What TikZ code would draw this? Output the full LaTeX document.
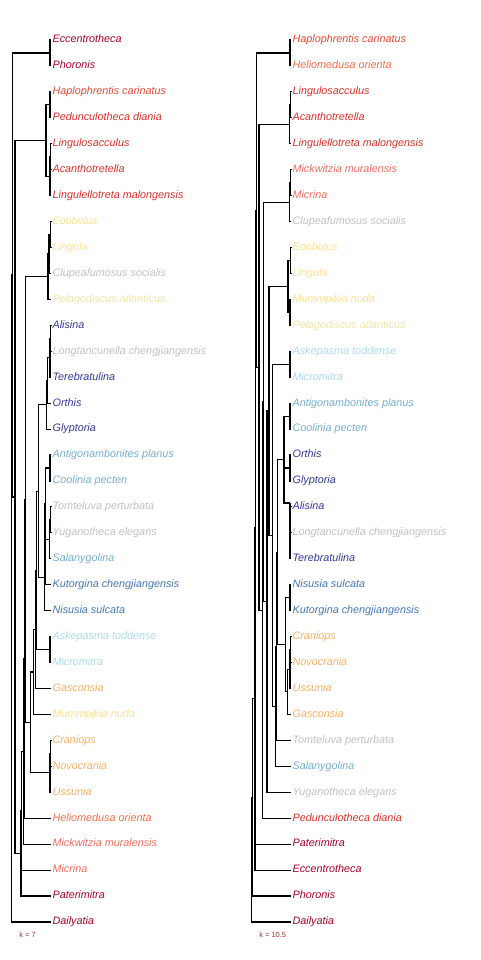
\documentclass[tikz,border=0pt]{standalone}
\usepackage{fontspec}
\setmainfont{Liberation Sans}
\usepackage{xcolor}
\usepackage{tikz}
\definecolor{cdkred}{HTML}{A50026}
\definecolor{cred}{HTML}{D73027}
\definecolor{credor}{HTML}{E34A33}
\definecolor{corred}{HTML}{F46D43}
\definecolor{csalmon}{HTML}{F26B5B}
\definecolor{corange}{HTML}{FDAE61}
\definecolor{cyellow}{HTML}{FEE090}
\definecolor{cpale}{HTML}{EDE5A6}
\definecolor{cltblue}{HTML}{ABD9E9}
\definecolor{cmdblue}{HTML}{74ADD1}
\definecolor{cblue}{HTML}{4575B4}
\definecolor{cindigo}{HTML}{313695}
\definecolor{cgrey}{HTML}{C0C0C0}
\definecolor{klab}{HTML}{993333}
\tikzset{
  taxon/.style={anchor=west,inner xsep=1pt,inner ysep=0pt,text height=5.8pt,text depth=1.5pt,font=\fontsize{8.1}{9}\selectfont\itshape},
  branch/.style={line width=0.8pt,black},
  klabel/.style={anchor=west,inner sep=0pt,text=klab,font=\fontsize{5.6}{6}\selectfont}
}

\begin{document}
\begin{tikzpicture}[x=0.75pt,y=-0.75pt]
		\useasboundingbox (0,0) rectangle (480,960);
		% left tree, k = 7
		\node[taxon,text=cdkred] (lEcc) at (51,40.0) {Eccentrotheca};
		\node[taxon,text=cdkred] (lPho) at (51,65.9) {Phoronis};
		\node[taxon,text=credor] (lHap) at (51,91.9) {Haplophrentis carinatus};
		\node[taxon,text=cred] (lPed) at (51,117.8) {Pedunculotheca diania};
		\node[taxon,text=cred] (lLgs) at (51,143.8) {Lingulosacculus};
		\node[taxon,text=cred] (lAca) at (51,169.7) {Acanthotretella};
		\node[taxon,text=cred] (lLgt) at (51,195.6) {Lingulellotreta malongensis};
		\node[taxon,text=cyellow] (lEoo) at (51,221.6) {Eoobolus};
		\node[taxon,text=cyellow] (lLin) at (51,247.5) {Lingula};
		\node[taxon,text=cgrey] (lClu) at (51,273.5) {Clupeafumosus socialis};
		\node[taxon,text=cpale] (lPel) at (51,299.4) {Pelagodiscus atlanticus};
		\node[taxon,text=cindigo] (lAli) at (51,325.3) {Alisina};
		\node[taxon,text=cgrey] (lLon) at (51,351.3) {Longtancunella chengjiangensis};
		\node[taxon,text=cindigo] (lTer) at (51,377.2) {Terebratulina};
		\node[taxon,text=cindigo] (lOrt) at (51,403.2) {Orthis};
		\node[taxon,text=cindigo] (lGly) at (51,429.1) {Glyptoria};
		\node[taxon,text=cmdblue] (lAnt) at (51,455.0) {Antigonambonites planus};
		\node[taxon,text=cmdblue] (lCoo) at (51,481.0) {Coolinia pecten};
		\node[taxon,text=cgrey] (lTom) at (51,506.9) {Tomteluva perturbata};
		\node[taxon,text=cgrey] (lYug) at (51,532.9) {Yuganotheca elegans};
		\node[taxon,text=cmdblue] (lSal) at (51,558.8) {Salanygolina};
		\node[taxon,text=cblue] (lKut) at (51,584.7) {Kutorgina chengjiangensis};
		\node[taxon,text=cblue] (lNis) at (51,610.7) {Nisusia sulcata};
		\node[taxon,text=cltblue] (lAsk) at (51,636.6) {Askepasma toddense};
		\node[taxon,text=cltblue] (lMic) at (51,662.6) {Micromitra};
		\node[taxon,text=corange] (lGas) at (51,688.5) {Gasconsia};
		\node[taxon,text=cyellow] (lMum) at (51,714.4) {Mummpikia nuda};
		\node[taxon,text=corange] (lCra) at (51,740.4) {Craniops};
		\node[taxon,text=corange] (lNov) at (51,766.3) {Novocrania};
		\node[taxon,text=corange] (lUss) at (51,792.3) {Ussunia};
		\node[taxon,text=corred] (lHel) at (51,818.2) {Heliomedusa orienta};
		\node[taxon,text=csalmon] (lMkw) at (51,844.1) {Mickwitzia muralensis};
		\node[taxon,text=csalmon] (lMcr) at (51,870.1) {Micrina};
		\node[taxon,text=cdkred] (lPat) at (51,896.0) {Paterimitra};
		\node[taxon,text=cdkred] (lDai) at (51,922.0) {Dailyatia};
		\node[klabel] (lk) at (19,935) {k = 7};
		% left tree, inner nodes
		\coordinate (lEP) at (50,53.0);
		\coordinate (lHP) at (50,104.9);
		\coordinate (lL1) at (50.7,156.8);
		\coordinate (lL2) at (50,176.2);
		\coordinate (lH) at (46,140.5);
		\coordinate (lE1) at (50.7,234.6);
		\coordinate (lE2) at (49,254.0);
		\coordinate (lE3) at (48,276.7);
		\coordinate (lA1) at (50.7,338.3);
		\coordinate (lA2) at (50,357.8);
		\coordinate (lA3) at (47.7,380.5);
		\coordinate (lA4) at (46.7,404.8);
		\coordinate (lAC) at (50,468.0);
		\coordinate (lTY) at (50.7,519.9);
		\coordinate (lTYS) at (49.5,539.4);
		\coordinate (lR) at (45.7,503.7);
		\coordinate (lQa) at (45,544.2);
		\coordinate (lQ) at (44.3,577.5);
		\coordinate (lP) at (38.3,491.2);
		\coordinate (lAM) at (50,649.6);
		\coordinate (lS1) at (36.7,570.4);
		\coordinate (lS2) at (35.7,629.5);
		\coordinate (lS3) at (33.3,672.0);
		\coordinate (lC1) at (50.7,753.4);
		\coordinate (lC2) at (50,772.9);
		\coordinate (lS4) at (30.7,722.5);
		\coordinate (lT) at (25.7,499.6);
		\coordinate (lU) at (24.3,658.9);
		\coordinate (lV) at (23.3,751.5);
		\coordinate (lW) at (21.7,810.8);
		\coordinate (lY) at (21,853.4);
		\coordinate (lZ) at (15,497.0);
		\coordinate (lAA) at (12.3,275.0);
		\coordinate (lRoot) at (11.5,598.5);
		% left tree, branches
		\draw[branch] (lEP) |- (lEcc.west) (lEP) |- (lPho.west);
		\draw[branch] (lHP) |- (lHap.west) (lHP) |- (lPed.west);
		\draw[branch] (lL1) |- (lLgs.west) (lL1) |- (lAca.west);
		\draw[branch] (lL2) |- (lL1) (lL2) |- (lLgt.west);
		\draw[branch] (lH) |- (lHP) (lH) |- (lL2);
		\draw[branch] (lE1) |- (lEoo.west) (lE1) |- (lLin.west);
		\draw[branch] (lE2) |- (lE1) (lE2) |- (lClu.west);
		\draw[branch] (lE3) |- (lE2) (lE3) |- (lPel.west);
		\draw[branch] (lA1) |- (lAli.west) (lA1) |- (lLon.west);
		\draw[branch] (lA2) |- (lA1) (lA2) |- (lTer.west);
		\draw[branch] (lA3) |- (lA2) (lA3) |- (lOrt.west);
		\draw[branch] (lA4) |- (lA3) (lA4) |- (lGly.west);
		\draw[branch] (lAC) |- (lAnt.west) (lAC) |- (lCoo.west);
		\draw[branch] (lTY) |- (lTom.west) (lTY) |- (lYug.west);
		\draw[branch] (lTYS) |- (lTY) (lTYS) |- (lSal.west);
		\draw[branch] (lR) |- (lAC) (lR) |- (lTYS);
		\draw[branch] (lQa) |- (lR) (lQa) |- (lKut.west);
		\draw[branch] (lQ) |- (lQa) (lQ) |- (lNis.west);
		\draw[branch] (lP) |- (lA4) (lP) |- (lQ);
		\draw[branch] (lAM) |- (lAsk.west) (lAM) |- (lMic.west);
		\draw[branch] (lS1) |- (lP) (lS1) |- (lAM);
		\draw[branch] (lS2) |- (lS1) (lS2) |- (lGas.west);
		\draw[branch] (lS3) |- (lS2) (lS3) |- (lMum.west);
		\draw[branch] (lC1) |- (lCra.west) (lC1) |- (lNov.west);
		\draw[branch] (lC2) |- (lC1) (lC2) |- (lUss.west);
		\draw[branch] (lS4) |- (lS3) (lS4) |- (lC2);
		\draw[branch] (lT) |- (lE3) (lT) |- (lS4);
		\draw[branch] (lU) |- (lT) (lU) |- (lHel.west);
		\draw[branch] (lV) |- (lU) (lV) |- (lMkw.west);
		\draw[branch] (lW) |- (lV) (lW) |- (lMcr.west);
		\draw[branch] (lY) |- (lW) (lY) |- (lPat.west);
		\draw[branch] (lZ) |- (lH) (lZ) |- (lY);
		\draw[branch] (lAA) |- (lEP) (lAA) |- (lZ);
		\draw[branch] (lRoot) |- (lAA) (lRoot) |- (lDai.west);

		% right tree, k = 10.5
		\node[taxon,text=credor] (rHap) at (291,40.0) {Haplophrentis carinatus};
		\node[taxon,text=corred] (rHel) at (291,65.9) {Heliomedusa orienta};
		\node[taxon,text=cred] (rLgs) at (291,91.9) {Lingulosacculus};
		\node[taxon,text=cred] (rAca) at (291,117.8) {Acanthotretella};
		\node[taxon,text=cred] (rLgt) at (291,143.8) {Lingulellotreta malongensis};
		\node[taxon,text=csalmon] (rMkw) at (291,169.7) {Mickwitzia muralensis};
		\node[taxon,text=csalmon] (rMcr) at (291,195.6) {Micrina};
		\node[taxon,text=cgrey] (rClu) at (291,221.6) {Clupeafumosus socialis};
		\node[taxon,text=cyellow] (rEoo) at (291,247.5) {Eoobolus};
		\node[taxon,text=cyellow] (rLin) at (291,273.5) {Lingula};
		\node[taxon,text=cyellow] (rMum) at (291,299.4) {Mummpikia nuda};
		\node[taxon,text=cpale] (rPel) at (291,325.3) {Pelagodiscus atlanticus};
		\node[taxon,text=cltblue] (rAsk) at (291,351.3) {Askepasma toddense};
		\node[taxon,text=cltblue] (rMic) at (291,377.2) {Micromitra};
		\node[taxon,text=cmdblue] (rAnt) at (291,403.2) {Antigonambonites planus};
		\node[taxon,text=cmdblue] (rCoo) at (291,429.1) {Coolinia pecten};
		\node[taxon,text=cindigo] (rOrt) at (291,455.0) {Orthis};
		\node[taxon,text=cindigo] (rGly) at (291,481.0) {Glyptoria};
		\node[taxon,text=cindigo] (rAli) at (291,506.9) {Alisina};
		\node[taxon,text=cgrey] (rLon) at (291,532.9) {Longtancunella chengjiangensis};
		\node[taxon,text=cindigo] (rTer) at (291,558.8) {Terebratulina};
		\node[taxon,text=cblue] (rNis) at (291,584.7) {Nisusia sulcata};
		\node[taxon,text=cblue] (rKut) at (291,610.7) {Kutorgina chengjiangensis};
		\node[taxon,text=corange] (rCra) at (291,636.6) {Craniops};
		\node[taxon,text=corange] (rNov) at (291,662.6) {Novocrania};
		\node[taxon,text=corange] (rUss) at (291,688.5) {Ussunia};
		\node[taxon,text=corange] (rGas) at (291,714.4) {Gasconsia};
		\node[taxon,text=cgrey] (rTom) at (291,740.4) {Tomteluva perturbata};
		\node[taxon,text=cmdblue] (rSal) at (291,766.3) {Salanygolina};
		\node[taxon,text=cgrey] (rYug) at (291,792.3) {Yuganotheca elegans};
		\node[taxon,text=cred] (rPed) at (291,818.2) {Pedunculotheca diania};
		\node[taxon,text=cdkred] (rPat) at (291,844.1) {Paterimitra};
		\node[taxon,text=cdkred] (rEcc) at (291,870.1) {Eccentrotheca};
		\node[taxon,text=cdkred] (rPho) at (291,896.0) {Phoronis};
		\node[taxon,text=cdkred] (rDai) at (291,922.0) {Dailyatia};
		\node[klabel] (rk) at (259,935) {k = 10.5};
		% right tree, inner nodes
		\coordinate (rHH) at (290,53.0);
		\coordinate (rLA) at (290.5,104.9);
		\coordinate (rLAL) at (289.5,124.4);
		\coordinate (rMM) at (290.5,182.7);
		\coordinate (rMMC) at (289.5,202.2);
		\coordinate (rEL) at (290.5,260.5);
		\coordinate (rMP) at (290,312.4);
		\coordinate (rELMP) at (288,286.5);
		\coordinate (rAM) at (290,364.3);
		\coordinate (rAC) at (290,416.2);
		\coordinate (rOG) at (290,468.0);
		\coordinate (rAL) at (290.5,519.9);
		\coordinate (rALT) at (290,503.0);
		\coordinate (rB1) at (284,459.6);
		\coordinate (rNK) at (290,597.7);
		\coordinate (rCN) at (290.5,649.6);
		\coordinate (rCNU) at (290,669.1);
		\coordinate (rCNUG) at (287.7,691.8);
		\coordinate (rNKC) at (285.7,644.8);
		\coordinate (rB2) at (277.3,552.2);
		\coordinate (rB3a) at (276.5,646.3);
		\coordinate (rB3) at (275.7,706.3);
		\coordinate (rNe) at (272.3,535.3);
		\coordinate (rNd) at (269,410.9);
		\coordinate (rNd1) at (267,601.6);
		\coordinate (rNc) at (263.3,401.9);
		\coordinate (rNc1) at (262.3,610.1);
		\coordinate (rNb) at (259,367.3);
		\coordinate (rNa) at (256.7,210.2);
		\coordinate (rNa1) at (255.7,527.2);
		\coordinate (rNa2) at (255,698.7);
		\coordinate (rNp) at (252.3,797.4);
		\coordinate (rRoot) at (251.7,859.7);
		% right tree, branches
		\draw[branch] (rHH) |- (rHap.west) (rHH) |- (rHel.west);
		\draw[branch] (rLA) |- (rLgs.west) (rLA) |- (rAca.west);
		\draw[branch] (rLAL) |- (rLA) (rLAL) |- (rLgt.west);
		\draw[branch] (rMM) |- (rMkw.west) (rMM) |- (rMcr.west);
		\draw[branch] (rMMC) |- (rMM) (rMMC) |- (rClu.west);
		\draw[branch] (rEL) |- (rEoo.west) (rEL) |- (rLin.west);
		\draw[branch] (rMP) |- (rMum.west) (rMP) |- (rPel.west);
		\draw[branch] (rELMP) |- (rEL) (rELMP) |- (rMP);
		\draw[branch] (rAM) |- (rAsk.west) (rAM) |- (rMic.west);
		\draw[branch] (rAC) |- (rAnt.west) (rAC) |- (rCoo.west);
		\draw[branch] (rOG) |- (rOrt.west) (rOG) |- (rGly.west);
		\draw[branch] (rAL) |- (rAli.west) (rAL) |- (rLon.west);
		\draw[branch] (rALT) |- (rAL) (rALT) |- (rTer.west);
		\draw[branch] (rB1) |- (rAC) (rB1) |- (rOG) (rB1) |- (rALT);
		\draw[branch] (rNK) |- (rNis.west) (rNK) |- (rKut.west);
		\draw[branch] (rCN) |- (rCra.west) (rCN) |- (rNov.west);
		\draw[branch] (rCNU) |- (rCN) (rCNU) |- (rUss.west);
		\draw[branch] (rCNUG) |- (rCNU) (rCNUG) |- (rGas.west);
		\draw[branch] (rNKC) |- (rNK) (rNKC) |- (rCNUG);
		\draw[branch] (rB2) |- (rB1) (rB2) |- (rNKC);
		\draw[branch] (rB3a) |- (rB2) (rB3a) |- (rTom.west);
		\draw[branch] (rB3) |- (rB3a) (rB3) |- (rSal.west);
		\draw[branch] (rNe) |- (rAM) (rNe) |- (rB3);
		\draw[branch] (rNd) |- (rELMP) (rNd) |- (rNe);
		\draw[branch] (rNd1) |- (rNd) (rNd1) |- (rYug.west);
		\draw[branch] (rNc) |- (rMMC) (rNc) |- (rNd1);
		\draw[branch] (rNc1) |- (rNc) (rNc1) |- (rPed.west);
		\draw[branch] (rNb) |- (rLAL) (rNb) |- (rNc1);
		\draw[branch] (rNa) |- (rHH) (rNa) |- (rNb);
		\draw[branch] (rNa1) |- (rNa) (rNa1) |- (rPat.west);
		\draw[branch] (rNa2) |- (rNa1) (rNa2) |- (rEcc.west);
		\draw[branch] (rNp) |- (rNa2) (rNp) |- (rPho.west);
		\draw[branch] (rRoot) |- (rNp) (rRoot) |- (rDai.west);
	\end{tikzpicture}
\end{document}
